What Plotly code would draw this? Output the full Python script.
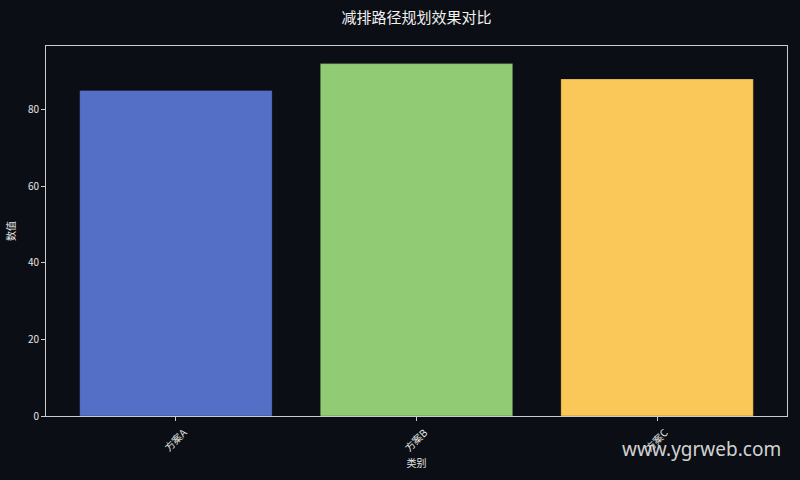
import plotly.graph_objects as go

# data
categories = ["方案A", "方案B", "方案C"]
values = [85, 92, 88]
bar_colors = ["#5470c6", "#91cc75", "#fac858"]

bg = "#0b0e14"
txt = "#e6e6e6"
font_name = "Noto Sans CJK SC"

fig = go.Figure()
fig.add_trace(go.Bar(
    x=categories, y=values,
    marker=dict(color=bar_colors, line=dict(color="rgba(0,0,0,0.25)", width=1)),
    width=0.8,
))

fig.update_layout(
    width=800, height=480,
    paper_bgcolor=bg, plot_bgcolor=bg,
    margin=dict(l=46, r=13, t=46, b=64),
    showlegend=False,
    font=dict(family=font_name, color=txt, size=11),
    title=dict(text="减排路径规划效果对比", x=0.5, xref="paper", xanchor="center",
               y=0.962, yanchor="middle",
               font=dict(size=15, color="#f0f0f0", family=font_name)),
)
fig.update_xaxes(
    range=[-0.54, 2.54], tickangle=-45, ticks="outside", ticklen=4, tickcolor="#cccccc",
    showline=True, linecolor="#cccccc", linewidth=1, mirror=True, showgrid=False,
    ticklabelshift=8, ticklabelstandoff=2,
    title=dict(text="类别", font=dict(size=10), standoff=6), tickfont=dict(size=10),
)
fig.update_yaxes(
    range=[0, 96.6], dtick=20, ticks="outside", ticklen=4, tickcolor="#cccccc",
    showline=True, linecolor="#cccccc", linewidth=1, mirror=True, showgrid=False,
    zeroline=False, title=dict(text="数值", font=dict(size=10), standoff=10), tickfont=dict(size=10),
)

fig.add_annotation(text="www.ygrweb.com", xref="paper", yref="paper", x=0.995, y=-0.088,
                   xanchor="right", yanchor="middle", showarrow=False,
                   font=dict(size=19, color="rgba(235,235,235,0.9)", family="Noto Sans"))

fig.write_html("out.html", config={"displayModeBar": False},
               post_script="document.body.style.margin='0';document.body.style.background='#0b0e14';")
